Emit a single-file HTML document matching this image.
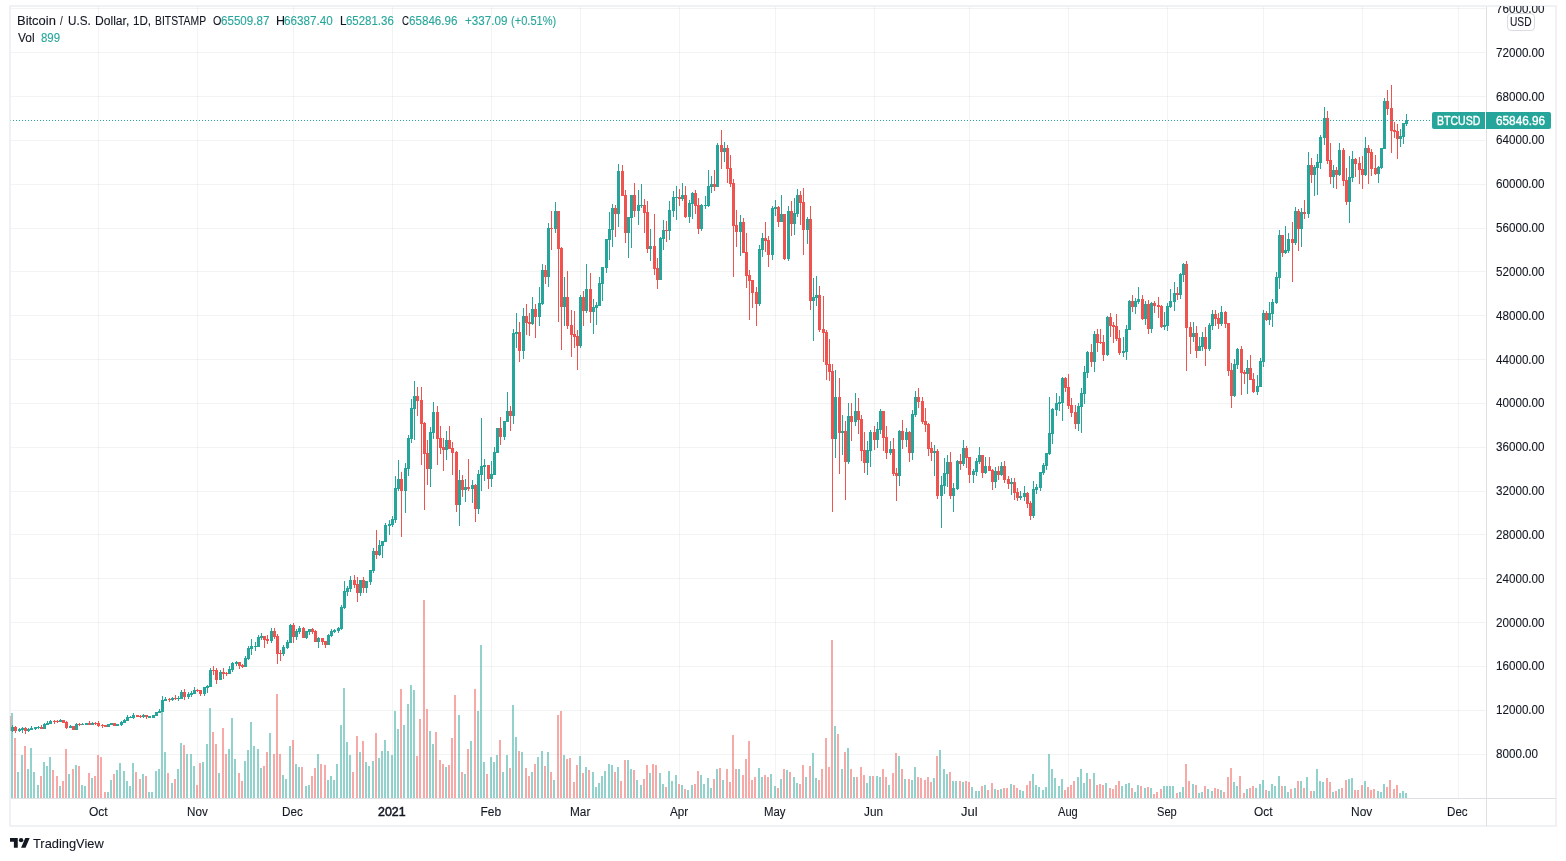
<!DOCTYPE html>
<html lang="en">
<head>
<meta charset="utf-8">
<title>BTCUSD Chart</title>
<style>
html,body{margin:0;padding:0;background:#fff;}
body{width:1566px;height:861px;position:relative;overflow:hidden;font-family:"Liberation Sans",sans-serif;font-size:12px;color:#131722;}
.frame{position:absolute;left:9px;top:5px;width:1544px;height:818px;border:2px solid #f0f1f5;}
.cv{position:absolute;left:0;top:0;}
.clip{position:absolute;left:0;top:6px;width:1566px;height:819px;overflow:hidden;}
.t{position:absolute;height:20px;line-height:20px;white-space:nowrap;transform-origin:0 50%;-webkit-text-stroke:0.1px currentColor;}
.w{-webkit-text-stroke:0.35px #fff;}
.y{-webkit-text-stroke:0.5px currentColor;}
.usd{position:absolute;left:1507px;top:13px;width:26px;height:16px;border:1px solid #d9dce3;border-radius:4px;background:#fff;}
.tag{position:absolute;top:112px;height:17px;background:#26a69a;}
.logo{position:absolute;left:9.9px;top:838.1px;}
</style>
</head>
<body>
<div class="frame"></div>
<svg class="cv" width="1566" height="861" viewBox="0 0 1566 861" shape-rendering="crispEdges">
<path d="M98 7h1v791h-1zM197 7h1v791h-1zM293 7h1v791h-1zM392 7h1v791h-1zM491 7h1v791h-1zM580 7h1v791h-1zM679 7h1v791h-1zM775 7h1v791h-1zM874 7h1v791h-1zM969 7h1v791h-1zM1068 7h1v791h-1zM1167 7h1v791h-1zM1263 7h1v791h-1zM1362 7h1v791h-1zM1458 7h1v791h-1z" fill="#1e3c32" fill-opacity="0.06"/>
<path d="M11 8h1475v1h-1475zM11 52h1475v1h-1475zM11 96h1475v1h-1475zM11 140h1475v1h-1475zM11 184h1475v1h-1475zM11 228h1475v1h-1475zM11 271h1475v1h-1475zM11 315h1475v1h-1475zM11 359h1475v1h-1475zM11 403h1475v1h-1475zM11 447h1475v1h-1475zM11 491h1475v1h-1475zM11 534h1475v1h-1475zM11 578h1475v1h-1475zM11 622h1475v1h-1475zM11 666h1475v1h-1475zM11 710h1475v1h-1475zM11 754h1475v1h-1475z" fill="#1e3c32" fill-opacity="0.06"/>
<path d="M10 716h1v15h-1z" fill="#ef5350" fill-opacity="0.45"/>
<path d="M11 713h2v85h-2zM17 772h2v26h-2zM21 755h2v43h-2zM27 769h2v29h-2zM30 748h2v50h-2zM33 772h2v26h-2zM37 785h2v13h-2zM43 762h2v36h-2zM46 766h2v32h-2zM49 757h2v41h-2zM59 786h2v12h-2zM68 774h2v24h-2zM75 765h2v33h-2zM81 785h2v13h-2zM84 786h2v12h-2zM91 778h2v20h-2zM107 792h2v6h-2zM110 780h2v18h-2zM116 770h2v28h-2zM119 763h2v35h-2zM123 771h2v27h-2zM126 781h2v17h-2zM129 786h2v12h-2zM132 763h2v35h-2zM142 774h2v24h-2zM148 792h2v6h-2zM151 792h2v6h-2zM155 771h2v27h-2zM158 769h2v29h-2zM161 707h2v91h-2zM164 752h2v46h-2zM171 783h2v15h-2zM177 769h2v29h-2zM180 743h2v55h-2zM186 754h2v44h-2zM190 754h2v44h-2zM193 766h2v32h-2zM202 762h2v36h-2zM206 744h2v54h-2zM209 708h2v90h-2zM218 773h2v25h-2zM228 749h2v49h-2zM231 718h2v80h-2zM234 759h2v39h-2zM244 761h2v37h-2zM247 750h2v48h-2zM250 722h2v76h-2zM253 746h2v52h-2zM257 749h2v49h-2zM260 768h2v30h-2zM269 733h2v65h-2zM282 775h2v23h-2zM285 779h2v19h-2zM289 746h2v52h-2zM295 764h2v34h-2zM298 767h2v31h-2zM305 786h2v12h-2zM308 785h2v13h-2zM317 754h2v44h-2zM327 780h2v18h-2zM330 776h2v22h-2zM333 780h2v18h-2zM336 764h2v34h-2zM340 725h2v73h-2zM343 688h2v110h-2zM346 742h2v56h-2zM349 755h2v43h-2zM359 752h2v46h-2zM365 762h2v36h-2zM368 766h2v32h-2zM372 761h2v37h-2zM378 758h2v40h-2zM381 751h2v47h-2zM384 740h2v58h-2zM387 751h2v47h-2zM391 755h2v43h-2zM394 711h2v87h-2zM397 729h2v69h-2zM403 725h2v73h-2zM407 704h2v94h-2zM410 685h2v113h-2zM413 690h2v108h-2zM429 731h2v67h-2zM432 744h2v54h-2zM445 767h2v31h-2zM458 715h2v83h-2zM464 774h2v24h-2zM470 741h2v57h-2zM477 711h2v87h-2zM480 645h2v153h-2zM483 762h2v36h-2zM490 757h2v41h-2zM493 762h2v36h-2zM496 755h2v43h-2zM502 772h2v26h-2zM506 755h2v43h-2zM512 705h2v93h-2zM515 737h2v61h-2zM521 752h2v46h-2zM531 772h2v26h-2zM537 757h2v41h-2zM541 751h2v47h-2zM547 752h2v46h-2zM553 780h2v18h-2zM563 755h2v43h-2zM579 756h2v42h-2zM585 767h2v31h-2zM592 772h2v26h-2zM595 787h2v11h-2zM598 783h2v15h-2zM601 776h2v22h-2zM604 771h2v27h-2zM608 764h2v34h-2zM611 765h2v33h-2zM617 767h2v31h-2zM627 760h2v38h-2zM630 769h2v29h-2zM636 780h2v18h-2zM640 785h2v13h-2zM649 773h2v25h-2zM659 773h2v25h-2zM662 784h2v14h-2zM668 771h2v27h-2zM671 781h2v17h-2zM675 775h2v23h-2zM681 785h2v13h-2zM687 790h2v8h-2zM691 785h2v13h-2zM700 775h2v23h-2zM703 784h2v14h-2zM707 778h2v20h-2zM710 788h2v10h-2zM716 769h2v29h-2zM722 780h2v18h-2zM738 769h2v29h-2zM758 768h2v30h-2zM761 777h2v21h-2zM770 774h2v24h-2zM774 786h2v12h-2zM780 779h2v19h-2zM786 770h2v28h-2zM793 777h2v21h-2zM796 783h2v15h-2zM805 777h2v21h-2zM812 753h2v45h-2zM815 778h2v20h-2zM834 726h2v72h-2zM841 769h2v29h-2zM847 748h2v50h-2zM853 777h2v21h-2zM866 783h2v15h-2zM869 776h2v22h-2zM876 776h2v22h-2zM879 777h2v21h-2zM888 785h2v13h-2zM898 756h2v42h-2zM904 779h2v19h-2zM911 780h2v18h-2zM914 767h2v31h-2zM933 778h2v20h-2zM939 750h2v48h-2zM943 769h2v29h-2zM946 774h2v24h-2zM952 781h2v17h-2zM955 781h2v17h-2zM962 782h2v16h-2zM971 787h2v11h-2zM975 791h2v7h-2zM978 791h2v7h-2zM984 785h2v13h-2zM994 789h2v9h-2zM1000 789h2v9h-2zM1010 784h2v14h-2zM1019 790h2v8h-2zM1022 791h2v7h-2zM1032 774h2v24h-2zM1035 785h2v13h-2zM1038 787h2v11h-2zM1042 790h2v8h-2zM1045 787h2v11h-2zM1048 754h2v44h-2zM1051 769h2v29h-2zM1054 778h2v20h-2zM1058 786h2v12h-2zM1061 779h2v19h-2zM1077 777h2v21h-2zM1080 769h2v29h-2zM1083 783h2v15h-2zM1086 773h2v25h-2zM1093 773h2v25h-2zM1105 783h2v15h-2zM1121 786h2v12h-2zM1125 784h2v14h-2zM1128 783h2v15h-2zM1134 792h2v6h-2zM1137 785h2v13h-2zM1144 788h2v10h-2zM1150 788h2v10h-2zM1163 786h2v12h-2zM1166 786h2v12h-2zM1169 786h2v12h-2zM1172 786h2v12h-2zM1179 792h2v6h-2zM1182 787h2v11h-2zM1192 784h2v14h-2zM1198 793h2v5h-2zM1201 792h2v6h-2zM1207 789h2v9h-2zM1211 791h2v7h-2zM1220 790h2v8h-2zM1233 782h2v16h-2zM1236 786h2v12h-2zM1246 789h2v9h-2zM1255 788h2v10h-2zM1259 784h2v14h-2zM1262 780h2v18h-2zM1268 791h2v7h-2zM1271 784h2v14h-2zM1274 786h2v12h-2zM1278 776h2v22h-2zM1284 786h2v12h-2zM1287 792h2v6h-2zM1294 788h2v10h-2zM1300 781h2v17h-2zM1306 777h2v21h-2zM1313 791h2v7h-2zM1316 769h2v29h-2zM1319 781h2v17h-2zM1322 782h2v16h-2zM1332 792h2v6h-2zM1338 789h2v9h-2zM1348 779h2v19h-2zM1351 778h2v20h-2zM1364 781h2v17h-2zM1377 791h2v7h-2zM1380 792h2v6h-2zM1383 784h2v14h-2zM1399 793h2v5h-2zM1402 791h2v7h-2zM1405 793h2v5h-2z" fill="#26a69a" fill-opacity="0.5"/>
<path d="M14 738h2v60h-2zM24 746h2v52h-2zM40 776h2v22h-2zM52 770h2v28h-2zM56 776h2v22h-2zM62 781h2v17h-2zM65 749h2v49h-2zM72 769h2v29h-2zM78 766h2v32h-2zM88 773h2v25h-2zM94 776h2v22h-2zM97 755h2v43h-2zM100 757h2v41h-2zM104 792h2v6h-2zM113 774h2v24h-2zM135 772h2v26h-2zM139 779h2v19h-2zM145 776h2v22h-2zM167 773h2v25h-2zM174 779h2v19h-2zM183 745h2v53h-2zM196 785h2v13h-2zM199 763h2v35h-2zM212 732h2v66h-2zM215 744h2v54h-2zM222 728h2v70h-2zM225 754h2v44h-2zM238 773h2v25h-2zM241 781h2v17h-2zM263 766h2v32h-2zM266 752h2v46h-2zM273 754h2v44h-2zM276 694h2v104h-2zM279 754h2v44h-2zM292 740h2v58h-2zM301 767h2v31h-2zM311 776h2v22h-2zM314 768h2v30h-2zM320 764h2v34h-2zM324 765h2v33h-2zM352 772h2v26h-2zM356 736h2v62h-2zM362 741h2v57h-2zM375 733h2v65h-2zM400 689h2v109h-2zM416 756h2v42h-2zM419 719h2v79h-2zM423 600h2v198h-2zM426 709h2v89h-2zM435 732h2v66h-2zM439 760h2v38h-2zM442 764h2v34h-2zM448 765h2v33h-2zM451 738h2v60h-2zM454 695h2v103h-2zM461 772h2v26h-2zM467 749h2v49h-2zM474 689h2v109h-2zM486 774h2v24h-2zM499 740h2v58h-2zM509 768h2v30h-2zM518 751h2v47h-2zM525 768h2v30h-2zM528 776h2v22h-2zM534 764h2v34h-2zM544 766h2v32h-2zM550 772h2v26h-2zM557 715h2v83h-2zM560 711h2v87h-2zM566 759h2v39h-2zM569 758h2v40h-2zM573 782h2v16h-2zM576 765h2v33h-2zM582 773h2v25h-2zM588 770h2v28h-2zM614 772h2v26h-2zM620 781h2v17h-2zM624 760h2v38h-2zM633 770h2v28h-2zM643 779h2v19h-2zM646 765h2v33h-2zM652 764h2v34h-2zM655 765h2v33h-2zM665 787h2v11h-2zM678 784h2v14h-2zM684 789h2v9h-2zM694 784h2v14h-2zM697 771h2v27h-2zM713 779h2v19h-2zM719 768h2v30h-2zM726 769h2v29h-2zM729 782h2v16h-2zM732 735h2v63h-2zM735 769h2v29h-2zM742 775h2v23h-2zM745 759h2v39h-2zM748 741h2v57h-2zM751 780h2v18h-2zM754 777h2v21h-2zM764 775h2v23h-2zM767 777h2v21h-2zM777 788h2v10h-2zM783 769h2v29h-2zM789 772h2v26h-2zM799 784h2v14h-2zM802 765h2v33h-2zM809 766h2v32h-2zM818 780h2v18h-2zM821 769h2v29h-2zM825 738h2v60h-2zM828 767h2v31h-2zM831 640h2v158h-2zM837 734h2v64h-2zM844 752h2v46h-2zM850 769h2v29h-2zM856 777h2v21h-2zM860 767h2v31h-2zM863 775h2v23h-2zM872 776h2v22h-2zM882 769h2v29h-2zM885 777h2v21h-2zM892 773h2v25h-2zM895 753h2v45h-2zM901 769h2v29h-2zM908 779h2v19h-2zM917 777h2v21h-2zM920 778h2v20h-2zM924 780h2v18h-2zM927 777h2v21h-2zM930 782h2v16h-2zM936 756h2v42h-2zM949 772h2v26h-2zM959 781h2v17h-2zM965 781h2v17h-2zM968 782h2v16h-2zM981 786h2v12h-2zM987 790h2v8h-2zM991 783h2v15h-2zM997 790h2v8h-2zM1003 788h2v10h-2zM1006 788h2v10h-2zM1013 785h2v13h-2zM1016 788h2v10h-2zM1026 785h2v13h-2zM1029 781h2v17h-2zM1064 790h2v8h-2zM1067 787h2v11h-2zM1070 785h2v13h-2zM1073 781h2v17h-2zM1089 779h2v19h-2zM1096 785h2v13h-2zM1099 784h2v14h-2zM1102 785h2v13h-2zM1109 788h2v10h-2zM1112 789h2v9h-2zM1115 785h2v13h-2zM1118 781h2v17h-2zM1131 788h2v10h-2zM1140 786h2v12h-2zM1147 787h2v11h-2zM1153 794h2v4h-2zM1156 792h2v6h-2zM1160 789h2v9h-2zM1176 793h2v5h-2zM1185 764h2v34h-2zM1188 781h2v17h-2zM1195 785h2v13h-2zM1204 786h2v12h-2zM1214 788h2v10h-2zM1217 789h2v9h-2zM1223 792h2v6h-2zM1227 777h2v21h-2zM1230 768h2v30h-2zM1239 776h2v22h-2zM1243 793h2v5h-2zM1249 788h2v10h-2zM1252 786h2v12h-2zM1265 790h2v8h-2zM1281 786h2v12h-2zM1290 789h2v9h-2zM1297 781h2v17h-2zM1303 788h2v10h-2zM1310 791h2v7h-2zM1326 778h2v20h-2zM1329 782h2v16h-2zM1335 791h2v7h-2zM1341 788h2v10h-2zM1345 780h2v18h-2zM1354 790h2v8h-2zM1357 790h2v8h-2zM1361 785h2v13h-2zM1367 787h2v11h-2zM1370 790h2v8h-2zM1373 789h2v9h-2zM1386 787h2v11h-2zM1389 780h2v18h-2zM1393 789h2v9h-2zM1396 785h2v13h-2z" fill="#ef5350" fill-opacity="0.5"/>
<path d="M12 725h1v7h-1zM11 727h3v4h-3zM19 728h1v4h-1zM18 729h3v2h-3zM22 727h1v6h-1zM21 728h3v2h-3zM28 728h1v4h-1zM27 729h3v2h-3zM31 726h1v4h-1zM30 728h3v2h-3zM35 727h1v3h-1zM34 727h3v2h-3zM38 726h1v3h-1zM37 727h3v1h-3zM44 723h1v6h-1zM43 724h3v5h-3zM47 721h1v4h-1zM46 723h3v2h-3zM50 720h1v4h-1zM49 721h3v3h-3zM60 719h1v3h-1zM59 720h3v2h-3zM70 725h1v3h-1zM69 726h3v2h-3zM76 723h1v7h-1zM75 724h3v6h-3zM82 723h1v2h-1zM81 724h3v1h-3zM86 723h1v2h-1zM85 723h3v2h-3zM92 722h1v3h-1zM91 723h3v2h-3zM108 724h1v3h-1zM107 724h3v3h-3zM111 723h1v2h-1zM110 723h3v2h-3zM117 724h1v2h-1zM116 724h3v2h-3zM121 721h1v5h-1zM120 722h3v3h-3zM124 719h1v4h-1zM123 720h3v3h-3zM127 715h1v6h-1zM126 717h3v4h-3zM130 716h1v2h-1zM129 717h3v1h-3zM133 713h1v6h-1zM132 715h3v3h-3zM143 714h1v4h-1zM142 715h3v2h-3zM149 716h1v2h-1zM148 716h3v2h-3zM153 715h1v3h-1zM152 715h3v3h-3zM156 712h1v4h-1zM155 712h3v4h-3zM159 709h1v4h-1zM158 711h3v2h-3zM162 696h1v16h-1zM161 700h3v12h-3zM165 697h1v4h-1zM164 699h3v2h-3zM172 697h1v4h-1zM171 698h3v2h-3zM178 696h1v5h-1zM177 698h3v1h-3zM181 690h1v9h-1zM180 692h3v7h-3zM188 692h1v7h-1zM187 694h3v3h-3zM191 691h1v6h-1zM190 693h3v2h-3zM194 687h1v7h-1zM193 690h3v4h-3zM204 687h1v9h-1zM203 687h3v7h-3zM207 685h1v8h-1zM206 686h3v2h-3zM210 668h1v19h-1zM209 670h3v17h-3zM220 670h1v10h-1zM219 672h3v8h-3zM229 666h1v8h-1zM228 669h3v5h-3zM232 662h1v10h-1zM231 663h3v7h-3zM236 661h1v5h-1zM235 662h3v2h-3zM245 656h1v11h-1zM244 658h3v9h-3zM248 646h1v14h-1zM247 648h3v11h-3zM251 639h1v16h-1zM250 646h3v3h-3zM255 642h1v9h-1zM254 646h3v1h-3zM258 635h1v12h-1zM257 637h3v10h-3zM261 633h1v7h-1zM260 636h3v2h-3zM271 628h1v15h-1zM270 631h3v10h-3zM283 645h1v11h-1zM282 647h3v7h-3zM287 640h1v9h-1zM286 642h3v6h-3zM290 624h1v19h-1zM289 625h3v18h-3zM296 629h1v11h-1zM295 631h3v6h-3zM299 626h1v8h-1zM298 628h3v4h-3zM306 631h1v8h-1zM305 631h3v7h-3zM309 629h1v6h-1zM308 629h3v3h-3zM318 637h1v11h-1zM317 638h3v4h-3zM328 634h1v11h-1zM327 635h3v10h-3zM331 629h1v8h-1zM330 631h3v5h-3zM334 629h1v4h-1zM333 630h3v2h-3zM338 627h1v6h-1zM337 628h3v3h-3zM341 605h1v25h-1zM340 607h3v22h-3zM344 581h1v28h-1zM343 591h3v17h-3zM347 586h1v10h-1zM346 588h3v4h-3zM350 576h1v16h-1zM349 580h3v9h-3zM360 580h1v16h-1zM359 580h3v13h-3zM366 581h1v12h-1zM365 581h3v7h-3zM370 570h1v15h-1zM369 570h3v12h-3zM373 548h1v25h-1zM372 551h3v20h-3zM379 540h1v16h-1zM378 545h3v10h-3zM382 541h1v17h-1zM381 541h3v5h-3zM385 523h1v19h-1zM384 525h3v17h-3zM389 520h1v15h-1zM388 524h3v2h-3zM392 516h1v11h-1zM391 519h3v6h-3zM395 476h1v47h-1zM394 488h3v32h-3zM398 460h1v31h-1zM397 479h3v10h-3zM405 463h1v50h-1zM404 468h3v23h-3zM408 435h1v41h-1zM407 438h3v31h-3zM411 399h1v44h-1zM410 408h3v31h-3zM414 381h1v59h-1zM413 396h3v13h-3zM430 427h1v60h-1zM429 432h3v37h-3zM433 402h1v37h-1zM432 412h3v21h-3zM446 431h1v29h-1zM445 440h3v10h-3zM459 470h1v56h-1zM458 480h3v25h-3zM465 479h1v23h-1zM464 487h3v3h-3zM472 480h1v23h-1zM471 485h3v4h-3zM478 470h1v44h-1zM477 474h3v35h-3zM481 418h1v73h-1zM480 466h3v9h-3zM484 459h1v22h-1zM483 465h3v2h-3zM491 461h1v26h-1zM490 474h3v5h-3zM494 447h1v28h-1zM493 452h3v23h-3zM497 428h1v25h-1zM496 428h3v25h-3zM504 421h1v19h-1zM503 421h3v16h-3zM507 392h1v30h-1zM506 411h3v11h-3zM513 329h1v95h-1zM512 333h3v83h-3zM516 313h1v35h-1zM515 332h3v2h-3zM523 308h1v51h-1zM522 316h3v35h-3zM532 297h1v28h-1zM531 309h3v15h-3zM539 287h1v39h-1zM538 303h3v14h-3zM542 264h1v41h-1zM541 270h3v34h-3zM548 223h1v64h-1zM547 228h3v49h-3zM555 202h1v31h-1zM554 211h3v18h-3zM564 277h1v49h-1zM563 297h3v10h-3zM580 295h1v53h-1zM579 297h3v49h-3zM586 264h1v49h-1zM585 289h3v22h-3zM593 299h1v35h-1zM592 307h3v5h-3zM596 302h1v23h-1zM595 305h3v3h-3zM599 277h1v29h-1zM598 283h3v23h-3zM602 267h1v34h-1zM601 267h3v17h-3zM606 239h1v34h-1zM605 239h3v29h-3zM609 212h1v48h-1zM608 229h3v11h-3zM612 204h1v43h-1zM611 208h3v22h-3zM618 164h1v63h-1zM617 171h3v43h-3zM628 217h1v41h-1zM627 217h3v16h-3zM631 195h1v53h-1zM630 195h3v23h-3zM638 190h1v35h-1zM637 205h3v6h-3zM641 184h1v24h-1zM640 205h3v1h-3zM650 229h1v32h-1zM649 246h3v3h-3zM660 237h1v43h-1zM659 238h3v42h-3zM663 220h1v30h-1zM662 230h3v9h-3zM669 201h1v39h-1zM668 210h3v21h-3zM673 191h1v26h-1zM672 197h3v14h-3zM676 186h1v34h-1zM675 197h3v1h-3zM682 183h1v18h-1zM681 195h3v4h-3zM689 200h1v23h-1zM688 203h3v14h-3zM692 192h1v27h-1zM691 193h3v11h-3zM701 204h1v27h-1zM700 205h3v24h-3zM705 196h1v13h-1zM704 205h3v1h-3zM708 170h1v37h-1zM707 186h3v20h-3zM711 176h1v17h-1zM710 184h3v3h-3zM717 143h1v44h-1zM716 145h3v42h-3zM724 142h1v20h-1zM723 148h3v4h-3zM740 215h1v41h-1zM739 222h3v10h-3zM759 245h1v61h-1zM758 249h3v55h-3zM762 233h1v24h-1zM761 238h3v12h-3zM772 206h1v54h-1zM771 208h3v47h-3zM775 200h1v16h-1zM774 207h3v2h-3zM781 195h1v27h-1zM780 214h3v8h-3zM788 206h1v55h-1zM787 211h3v48h-3zM794 198h1v37h-1zM793 213h3v11h-3zM797 189h1v28h-1zM796 195h3v19h-3zM807 217h1v27h-1zM806 219h3v11h-3zM813 278h1v63h-1zM812 297h3v4h-3zM816 276h1v30h-1zM815 295h3v3h-3zM835 370h1v88h-1zM834 397h3v42h-3zM842 415h1v40h-1zM841 431h3v2h-3zM848 403h1v61h-1zM847 416h3v46h-3zM855 393h1v33h-1zM854 411h3v11h-3zM867 441h1v34h-1zM866 450h3v13h-3zM870 430h1v37h-1zM869 432h3v19h-3zM877 422h1v26h-1zM876 429h3v11h-3zM880 409h1v25h-1zM879 411h3v19h-3zM890 441h1v14h-1zM889 449h3v4h-3zM899 430h1v56h-1zM898 431h3v45h-3zM906 428h1v19h-1zM905 432h3v8h-3zM912 410h1v50h-1zM911 414h3v39h-3zM915 391h1v26h-1zM914 397h3v18h-3zM934 445h1v31h-1zM933 451h3v2h-3zM941 476h1v52h-1zM940 485h3v11h-3zM944 458h1v36h-1zM943 473h3v13h-3zM947 455h1v32h-1zM946 462h3v12h-3zM953 483h1v29h-1zM952 488h3v8h-3zM957 460h1v30h-1zM956 461h3v28h-3zM963 440h1v26h-1zM962 448h3v16h-3zM973 469h1v14h-1zM972 471h3v4h-3zM976 458h1v18h-1zM975 461h3v11h-3zM979 447h1v17h-1zM978 455h3v7h-3zM985 457h1v17h-1zM984 466h3v7h-3zM995 467h1v21h-1zM994 471h3v11h-3zM1001 462h1v14h-1zM1000 466h3v9h-3zM1011 478h1v17h-1zM1010 482h3v2h-3zM1020 491h1v9h-1zM1019 496h3v2h-3zM1024 486h1v15h-1zM1023 493h3v4h-3zM1033 481h1v37h-1zM1032 489h3v27h-3zM1036 484h1v10h-1zM1035 487h3v3h-3zM1040 472h1v19h-1zM1039 472h3v16h-3zM1043 463h1v12h-1zM1042 465h3v8h-3zM1046 453h1v17h-1zM1045 453h3v13h-3zM1049 397h1v58h-1zM1048 433h3v21h-3zM1052 408h1v36h-1zM1051 409h3v25h-3zM1056 393h1v23h-1zM1055 403h3v7h-3zM1059 396h1v15h-1zM1058 402h3v2h-3zM1062 377h1v44h-1zM1061 378h3v25h-3zM1078 403h1v28h-1zM1077 406h3v18h-3zM1081 388h1v45h-1zM1080 393h3v14h-3zM1084 366h1v38h-1zM1083 372h3v22h-3zM1087 351h1v27h-1zM1086 352h3v21h-3zM1094 331h1v41h-1zM1093 334h3v28h-3zM1107 316h1v40h-1zM1106 317h3v38h-3zM1123 337h1v20h-1zM1122 351h3v2h-3zM1126 325h1v35h-1zM1125 329h3v23h-3zM1129 300h1v30h-1zM1128 301h3v29h-3zM1135 298h1v16h-1zM1134 301h3v6h-3zM1138 287h1v17h-1zM1137 299h3v3h-3zM1145 301h1v24h-1zM1144 304h3v15h-3zM1151 302h1v31h-1zM1150 303h3v26h-3zM1164 312h1v18h-1zM1163 325h3v2h-3zM1167 303h1v28h-1zM1166 306h3v20h-3zM1170 289h1v19h-1zM1169 301h3v6h-3zM1174 282h1v29h-1zM1173 293h3v9h-3zM1180 273h1v26h-1zM1179 274h3v21h-3zM1183 263h1v19h-1zM1182 264h3v11h-3zM1193 322h1v20h-1zM1192 333h3v4h-3zM1199 337h1v14h-1zM1198 346h3v5h-3zM1202 332h1v19h-1zM1201 337h3v10h-3zM1209 323h1v28h-1zM1208 325h3v24h-3zM1212 310h1v20h-1zM1211 314h3v12h-3zM1221 306h1v20h-1zM1220 312h3v12h-3zM1234 359h1v38h-1zM1233 364h3v32h-3zM1237 348h1v21h-1zM1236 349h3v16h-3zM1247 360h1v34h-1zM1246 368h3v6h-3zM1257 375h1v20h-1zM1256 386h3v6h-3zM1260 358h1v29h-1zM1259 361h3v26h-3zM1263 310h1v57h-1zM1262 313h3v49h-3zM1269 302h1v23h-1zM1268 313h3v7h-3zM1272 299h1v28h-1zM1271 302h3v12h-3zM1276 272h1v32h-1zM1275 277h3v26h-3zM1279 230h1v59h-1zM1278 235h3v43h-3zM1285 226h1v28h-1zM1284 250h3v3h-3zM1288 233h1v20h-1zM1287 239h3v12h-3zM1295 207h1v38h-1zM1294 211h3v32h-3zM1301 208h1v39h-1zM1300 212h3v17h-3zM1308 152h1v66h-1zM1307 165h3v49h-3zM1314 165h1v31h-1zM1313 167h3v8h-3zM1317 154h1v41h-1zM1316 162h3v6h-3zM1320 135h1v34h-1zM1319 137h3v26h-3zM1324 107h1v38h-1zM1323 118h3v20h-3zM1333 165h1v23h-1zM1332 170h3v7h-3zM1339 143h1v33h-1zM1338 150h3v25h-3zM1349 156h1v67h-1zM1348 177h3v25h-3zM1352 151h1v31h-1zM1351 159h3v19h-3zM1365 137h1v39h-1zM1364 148h3v27h-3zM1378 166h1v17h-1zM1377 167h3v7h-3zM1381 148h1v21h-1zM1380 148h3v20h-3zM1384 98h1v51h-1zM1383 101h3v48h-3zM1400 129h1v18h-1zM1399 136h3v3h-3zM1403 123h1v21h-1zM1402 123h3v14h-3zM1406 114h1v12h-1zM1405 120h3v4h-3z" fill="#26a69a"/>
<path d="M15 726h1v7h-1zM14 727h3v4h-3zM25 727h1v7h-1zM24 728h3v3h-3zM41 725h1v4h-1zM40 727h3v2h-3zM54 720h1v4h-1zM53 721h3v1h-3zM57 720h1v3h-1zM56 721h3v1h-3zM63 720h1v3h-1zM62 720h3v3h-3zM66 721h1v8h-1zM65 722h3v6h-3zM73 726h1v4h-1zM72 726h3v4h-3zM79 723h1v3h-1zM78 724h3v1h-3zM89 721h1v4h-1zM88 723h3v2h-3zM95 722h1v3h-1zM94 723h3v1h-3zM98 721h1v6h-1zM97 723h3v3h-3zM102 724h1v4h-1zM101 725h3v1h-3zM105 725h1v2h-1zM104 725h3v2h-3zM114 723h1v3h-1zM113 723h3v3h-3zM137 715h1v2h-1zM136 715h3v2h-3zM140 715h1v3h-1zM139 716h3v1h-3zM146 715h1v4h-1zM145 715h3v2h-3zM169 698h1v4h-1zM168 699h3v1h-3zM175 695h1v5h-1zM174 698h3v1h-3zM184 689h1v11h-1zM183 692h3v5h-3zM197 689h1v3h-1zM196 690h3v1h-3zM200 690h1v6h-1zM199 690h3v4h-3zM213 666h1v9h-1zM212 670h3v1h-3zM216 668h1v16h-1zM215 670h3v10h-3zM223 668h1v11h-1zM222 672h3v2h-3zM226 672h1v4h-1zM225 673h3v1h-3zM239 662h1v7h-1zM238 662h3v4h-3zM242 664h1v4h-1zM241 665h3v2h-3zM264 636h1v12h-1zM263 636h3v4h-3zM267 635h1v9h-1zM266 639h3v2h-3zM274 628h1v11h-1zM273 631h3v6h-3zM277 634h1v30h-1zM276 636h3v18h-3zM280 650h1v11h-1zM279 653h3v1h-3zM293 623h1v20h-1zM292 625h3v12h-3zM303 627h1v11h-1zM302 628h3v10h-3zM312 628h1v6h-1zM311 629h3v3h-3zM315 630h1v12h-1zM314 631h3v11h-3zM322 638h1v7h-1zM321 638h3v4h-3zM325 641h1v7h-1zM324 641h3v4h-3zM354 575h1v13h-1zM353 580h3v5h-3zM357 577h1v25h-1zM356 584h3v9h-3zM363 577h1v16h-1zM362 580h3v8h-3zM376 530h1v29h-1zM375 551h3v4h-3zM401 472h1v65h-1zM400 479h3v12h-3zM417 387h1v29h-1zM416 396h3v5h-3zM421 387h1v78h-1zM420 400h3v24h-3zM424 422h1v88h-1zM423 423h3v31h-3zM427 440h1v45h-1zM426 453h3v16h-3zM437 406h1v59h-1zM436 412h3v27h-3zM440 426h1v28h-1zM439 438h3v10h-3zM443 438h1v33h-1zM442 447h3v3h-3zM449 426h1v23h-1zM448 440h3v9h-3zM452 442h1v33h-1zM451 448h3v5h-3zM456 451h1v61h-1zM455 452h3v53h-3zM462 475h1v22h-1zM461 480h3v10h-3zM468 459h1v32h-1zM467 487h3v2h-3zM475 484h1v38h-1zM474 485h3v24h-3zM488 465h1v24h-1zM487 465h3v14h-3zM500 417h1v28h-1zM499 428h3v9h-3zM510 406h1v25h-1zM509 411h3v5h-3zM519 322h1v40h-1zM518 332h3v19h-3zM526 304h1v31h-1zM525 316h3v7h-3zM529 313h1v23h-1zM528 322h3v2h-3zM535 304h1v34h-1zM534 309h3v8h-3zM545 265h1v19h-1zM544 270h3v7h-3zM551 211h1v39h-1zM550 228h3v1h-3zM558 211h1v111h-1zM557 211h3v38h-3zM561 247h1v103h-1zM560 248h3v59h-3zM567 271h1v58h-1zM566 297h3v29h-3zM571 310h1v47h-1zM570 325h3v10h-3zM574 311h1v37h-1zM573 334h3v3h-3zM577 330h1v40h-1zM576 336h3v10h-3zM583 291h1v35h-1zM582 297h3v14h-3zM590 273h1v50h-1zM589 289h3v23h-3zM615 205h1v32h-1zM614 208h3v6h-3zM622 165h1v31h-1zM621 171h3v25h-3zM625 190h1v53h-1zM624 195h3v38h-3zM634 183h1v34h-1zM633 195h3v16h-3zM644 199h1v34h-1zM643 205h3v8h-3zM647 201h1v52h-1zM646 212h3v37h-3zM654 214h1v61h-1zM653 246h3v23h-3zM657 258h1v31h-1zM656 268h3v12h-3zM666 221h1v21h-1zM665 230h3v1h-3zM679 189h1v17h-1zM678 197h3v2h-3zM685 186h1v32h-1zM684 195h3v22h-3zM695 190h1v24h-1zM694 193h3v13h-3zM698 198h1v36h-1zM697 205h3v24h-3zM714 170h1v21h-1zM713 184h3v3h-3zM721 130h1v39h-1zM720 145h3v7h-3zM727 145h1v38h-1zM726 148h3v21h-3zM730 155h1v32h-1zM729 168h3v16h-3zM733 179h1v98h-1zM732 183h3v43h-3zM736 210h1v37h-1zM735 225h3v7h-3zM743 218h1v35h-1zM742 222h3v31h-3zM746 233h1v55h-1zM745 252h3v24h-3zM749 270h1v50h-1zM748 275h3v6h-3zM752 280h1v28h-1zM751 280h3v13h-3zM756 287h1v39h-1zM755 292h3v12h-3zM765 222h1v30h-1zM764 238h3v3h-3zM768 236h1v31h-1zM767 240h3v15h-3zM778 206h1v21h-1zM777 207h3v15h-3zM784 214h1v46h-1zM783 214h3v45h-3zM791 201h1v35h-1zM790 211h3v13h-3zM800 191h1v34h-1zM799 195h3v8h-3zM803 188h1v67h-1zM802 202h3v28h-3zM810 206h1v104h-1zM809 219h3v82h-3zM819 286h1v46h-1zM818 295h3v35h-3zM823 296h1v66h-1zM822 329h3v4h-3zM826 330h1v50h-1zM825 332h3v33h-3zM829 339h1v42h-1zM828 364h3v8h-3zM832 364h1v148h-1zM831 371h3v68h-3zM839 378h1v96h-1zM838 397h3v36h-3zM845 421h1v79h-1zM844 431h3v31h-3zM851 403h1v38h-1zM850 416h3v6h-3zM858 398h1v36h-1zM857 411h3v9h-3zM861 415h1v46h-1zM860 419h3v32h-3zM864 432h1v41h-1zM863 450h3v13h-3zM874 426h1v24h-1zM873 432h3v8h-3zM883 411h1v40h-1zM882 411h3v27h-3zM886 426h1v33h-1zM885 437h3v16h-3zM893 438h1v38h-1zM892 449h3v25h-3zM896 468h1v33h-1zM895 473h3v3h-3zM902 420h1v29h-1zM901 431h3v9h-3zM909 431h1v31h-1zM908 432h3v21h-3zM918 388h1v20h-1zM917 397h3v5h-3zM922 397h1v27h-1zM921 401h3v21h-3zM925 408h1v24h-1zM924 421h3v4h-3zM928 423h1v33h-1zM927 424h3v25h-3zM931 442h1v19h-1zM930 448h3v5h-3zM937 449h1v50h-1zM936 451h3v45h-3zM950 452h1v47h-1zM949 462h3v34h-3zM960 454h1v16h-1zM959 461h3v3h-3zM966 446h1v22h-1zM965 448h3v10h-3zM969 457h1v26h-1zM968 457h3v18h-3zM982 455h1v23h-1zM981 455h3v18h-3zM989 457h1v14h-1zM988 466h3v5h-3zM992 469h1v21h-1zM991 470h3v12h-3zM998 466h1v14h-1zM997 471h3v4h-3zM1004 461h1v22h-1zM1003 466h3v14h-3zM1008 476h1v13h-1zM1007 479h3v5h-3zM1014 478h1v22h-1zM1013 482h3v11h-3zM1017 488h1v13h-1zM1016 492h3v6h-3zM1027 492h1v16h-1zM1026 493h3v11h-3zM1030 501h1v19h-1zM1029 503h3v13h-3zM1065 377h1v15h-1zM1064 378h3v10h-3zM1068 374h1v35h-1zM1067 387h3v19h-3zM1071 398h1v19h-1zM1070 405h3v8h-3zM1075 405h1v24h-1zM1074 412h3v12h-3zM1091 344h1v23h-1zM1090 352h3v10h-3zM1097 329h1v23h-1zM1096 334h3v9h-3zM1100 329h1v15h-1zM1099 342h3v1h-3zM1103 335h1v26h-1zM1102 342h3v13h-3zM1110 313h1v24h-1zM1109 317h3v9h-3zM1113 322h1v21h-1zM1112 325h3v2h-3zM1116 314h1v27h-1zM1115 326h3v13h-3zM1119 330h1v25h-1zM1118 338h3v15h-3zM1132 295h1v17h-1zM1131 301h3v6h-3zM1142 295h1v25h-1zM1141 299h3v20h-3zM1148 300h1v34h-1zM1147 304h3v25h-3zM1154 301h1v12h-1zM1153 303h3v3h-3zM1158 297h1v21h-1zM1157 305h3v2h-3zM1161 305h1v23h-1zM1160 306h3v21h-3zM1177 287h1v13h-1zM1176 293h3v2h-3zM1186 261h1v110h-1zM1185 264h3v64h-3zM1190 322h1v32h-1zM1189 327h3v10h-3zM1196 326h1v32h-1zM1195 333h3v18h-3zM1205 327h1v39h-1zM1204 337h3v12h-3zM1215 310h1v16h-1zM1214 314h3v5h-3zM1218 313h1v16h-1zM1217 318h3v6h-3zM1225 311h1v17h-1zM1224 312h3v12h-3zM1228 323h1v53h-1zM1227 323h3v48h-3zM1231 363h1v45h-1zM1230 370h3v26h-3zM1241 346h1v49h-1zM1240 349h3v24h-3zM1244 370h1v14h-1zM1243 372h3v2h-3zM1250 355h1v25h-1zM1249 368h3v12h-3zM1253 373h1v20h-1zM1252 379h3v13h-3zM1266 311h1v10h-1zM1265 313h3v7h-3zM1282 235h1v22h-1zM1281 235h3v18h-3zM1292 222h1v60h-1zM1291 239h3v4h-3zM1298 209h1v42h-1zM1297 211h3v18h-3zM1304 200h1v19h-1zM1303 212h3v2h-3zM1311 158h1v25h-1zM1310 165h3v10h-3zM1327 111h1v53h-1zM1326 118h3v43h-3zM1330 143h1v41h-1zM1329 160h3v17h-3zM1336 167h1v22h-1zM1335 170h3v5h-3zM1343 148h1v38h-1zM1342 150h3v31h-3zM1346 168h1v37h-1zM1345 180h3v22h-3zM1355 158h1v19h-1zM1354 159h3v5h-3zM1359 157h1v27h-1zM1358 163h3v7h-3zM1362 156h1v33h-1zM1361 169h3v6h-3zM1368 145h1v39h-1zM1367 148h3v5h-3zM1371 149h1v27h-1zM1370 152h3v17h-3zM1375 155h1v20h-1zM1374 168h3v6h-3zM1387 90h1v25h-1zM1386 101h3v8h-3zM1391 85h1v68h-1zM1390 108h3v23h-3zM1394 122h1v16h-1zM1393 130h3v2h-3zM1397 124h1v35h-1zM1396 131h3v8h-3z" fill="#ef5350"/>
<path d="M13 120.5H1432" stroke="#26a69a" stroke-width="1" stroke-dasharray="1 2" fill="none"/>
<path d="M10 120h1v1h-1z" fill="#26a69a" fill-opacity="0.45"/>
<path d="M1486 7h1v819h-1zM11 798h1545v1h-1545z" fill="#dfe0e4"/>
</svg>
<div class="clip">
<span class="t" style="left:1495.90px;top:-7px;font-size:12px;font-weight:400;color:#131722;transform:scaleX(0.9694)">76000.00</span>
<span class="t" style="left:1495.90px;top:37px;font-size:12px;font-weight:400;color:#131722;transform:scaleX(0.9694)">72000.00</span>
<span class="t" style="left:1495.90px;top:81px;font-size:12px;font-weight:400;color:#131722;transform:scaleX(0.9694)">68000.00</span>
<span class="t" style="left:1495.90px;top:124px;font-size:12px;font-weight:400;color:#131722;transform:scaleX(0.9694)">64000.00</span>
<span class="t" style="left:1495.90px;top:168px;font-size:12px;font-weight:400;color:#131722;transform:scaleX(0.9694)">60000.00</span>
<span class="t" style="left:1495.90px;top:212px;font-size:12px;font-weight:400;color:#131722;transform:scaleX(0.9694)">56000.00</span>
<span class="t" style="left:1495.90px;top:256px;font-size:12px;font-weight:400;color:#131722;transform:scaleX(0.9694)">52000.00</span>
<span class="t" style="left:1495.90px;top:300px;font-size:12px;font-weight:400;color:#131722;transform:scaleX(0.9694)">48000.00</span>
<span class="t" style="left:1495.90px;top:344px;font-size:12px;font-weight:400;color:#131722;transform:scaleX(0.9694)">44000.00</span>
<span class="t" style="left:1495.90px;top:387px;font-size:12px;font-weight:400;color:#131722;transform:scaleX(0.9694)">40000.00</span>
<span class="t" style="left:1495.90px;top:431px;font-size:12px;font-weight:400;color:#131722;transform:scaleX(0.9694)">36000.00</span>
<span class="t" style="left:1495.90px;top:475px;font-size:12px;font-weight:400;color:#131722;transform:scaleX(0.9694)">32000.00</span>
<span class="t" style="left:1495.90px;top:519px;font-size:12px;font-weight:400;color:#131722;transform:scaleX(0.9694)">28000.00</span>
<span class="t" style="left:1495.90px;top:563px;font-size:12px;font-weight:400;color:#131722;transform:scaleX(0.9694)">24000.00</span>
<span class="t" style="left:1495.90px;top:607px;font-size:12px;font-weight:400;color:#131722;transform:scaleX(0.9694)">20000.00</span>
<span class="t" style="left:1495.90px;top:650px;font-size:12px;font-weight:400;color:#131722;transform:scaleX(0.9694)">16000.00</span>
<span class="t" style="left:1495.90px;top:694px;font-size:12px;font-weight:400;color:#131722;transform:scaleX(0.9694)">12000.00</span>
<span class="t" style="left:1495.90px;top:738px;font-size:12px;font-weight:400;color:#131722;transform:scaleX(0.9694)">8000.00</span>
</div>
<div class="usd"></div>
<div class="tag" style="left:1432px;width:53px;border-radius:2px 0 0 2px;"></div>
<div class="tag" style="left:1486px;width:65px;border-radius:0 2px 2px 0;"></div>
<span class="t" style="left:17.22px;top:11px;font-size:12px;font-weight:400;color:#131722;transform:scaleX(1.0795)">Bitcoin</span>
<span class="t" style="left:60.04px;top:11px;font-size:12px;font-weight:400;color:#131722;transform:scaleX(0.824)">/</span>
<span class="t" style="left:68.12px;top:11px;font-size:12px;font-weight:400;color:#131722;transform:scaleX(0.9761)">U.S.</span>
<span class="t" style="left:94.79px;top:11px;font-size:12px;font-weight:400;color:#131722;transform:scaleX(1.0095)">Dollar,</span>
<span class="t" style="left:132.63px;top:11px;font-size:12px;font-weight:400;color:#131722;transform:scaleX(0.9677)">1D,</span>
<span class="t" style="left:154.74px;top:11px;font-size:12px;font-weight:400;color:#131722;transform:scaleX(0.8639)">BITSTAMP</span>
<span class="t" style="left:212.63px;top:11px;font-size:12px;font-weight:400;color:#131722;transform:scaleX(0.8995)">O</span>
<span class="t" style="left:220.99px;top:11px;font-size:12px;font-weight:400;color:#26a69a;transform:scaleX(0.9665)">65509.87</span>
<span class="t" style="left:275.76px;top:11px;font-size:12px;font-weight:400;color:#131722;transform:scaleX(1.0387)">H</span>
<span class="t" style="left:284.48px;top:11px;font-size:12px;font-weight:400;color:#26a69a;transform:scaleX(0.9756)">66387.40</span>
<span class="t" style="left:339.62px;top:11px;font-size:12px;font-weight:400;color:#131722;transform:scaleX(0.9753)">L</span>
<span class="t" style="left:346.49px;top:11px;font-size:12px;font-weight:400;color:#26a69a;transform:scaleX(0.9544)">65281.36</span>
<span class="t" style="left:402.04px;top:11px;font-size:12px;font-weight:400;color:#131722;transform:scaleX(0.8097)">C</span>
<span class="t" style="left:409.09px;top:11px;font-size:12px;font-weight:400;color:#26a69a;transform:scaleX(0.9686)">65846.96</span>
<span class="t" style="left:465.01px;top:11px;font-size:12px;font-weight:400;color:#26a69a;transform:scaleX(0.9696)">+337.09</span>
<span class="t" style="left:511.14px;top:11px;font-size:12px;font-weight:400;color:#26a69a;transform:scaleX(0.923)">(+0.51%)</span>
<span class="t" style="left:18.17px;top:28px;font-size:12px;font-weight:400;color:#131722;transform:scaleX(0.9943)">Vol</span>
<span class="t" style="left:41.43px;top:28px;font-size:12px;font-weight:400;color:#26a69a;transform:scaleX(0.9498)">899</span>
<span class="t" style="left:88.80px;top:802px;font-size:12px;font-weight:400;color:#131722;transform:scaleX(1.0001)">Oct</span>
<span class="t" style="left:186.73px;top:802px;font-size:12px;font-weight:400;color:#131722;transform:scaleX(0.9711)">Nov</span>
<span class="t" style="left:282.42px;top:802px;font-size:12px;font-weight:400;color:#131722;transform:scaleX(0.9773)">Dec</span>
<span class="t y" style="left:378.18px;top:802px;font-size:12px;font-weight:400;color:#131722;transform:scaleX(1.0317)">2021</span>
<span class="t" style="left:480.50px;top:802px;font-size:12px;font-weight:400;color:#131722;transform:scaleX(1.0)">Feb</span>
<span class="t" style="left:569.51px;top:802px;font-size:12px;font-weight:400;color:#131722;transform:scaleX(0.9864)">Mar</span>
<span class="t" style="left:669.88px;top:802px;font-size:12px;font-weight:400;color:#131722;transform:scaleX(0.9706)">Apr</span>
<span class="t" style="left:763.55px;top:802px;font-size:12px;font-weight:400;color:#131722;transform:scaleX(0.9506)">May</span>
<span class="t" style="left:864.23px;top:802px;font-size:12px;font-weight:400;color:#131722;transform:scaleX(0.9817)">Jun</span>
<span class="t" style="left:961.20px;top:802px;font-size:12px;font-weight:400;color:#131722;transform:scaleX(1.0812)">Jul</span>
<span class="t" style="left:1058.39px;top:802px;font-size:12px;font-weight:400;color:#131722;transform:scaleX(0.9235)">Aug</span>
<span class="t" style="left:1157.18px;top:802px;font-size:12px;font-weight:400;color:#131722;transform:scaleX(0.9229)">Sep</span>
<span class="t" style="left:1253.60px;top:802px;font-size:12px;font-weight:400;color:#131722;transform:scaleX(0.9892)">Oct</span>
<span class="t" style="left:1351.20px;top:802px;font-size:12px;font-weight:400;color:#131722;transform:scaleX(0.9962)">Nov</span>
<span class="t" style="left:1447.13px;top:802px;font-size:12px;font-weight:400;color:#131722;transform:scaleX(0.9672)">Dec</span>
<span class="t" style="left:1510.05px;top:12px;font-size:12px;font-weight:400;color:#131722;transform:scaleX(0.8497)">USD</span>
<span class="t w" style="left:1436.52px;top:111px;font-size:12px;font-weight:400;color:#ffffff;transform:scaleX(0.8791)">BTCUSD</span>
<span class="t w" style="left:1495.68px;top:111px;font-size:12px;font-weight:400;color:#ffffff;transform:scaleX(0.9807)">65846.96</span>
<span class="t" style="left:32.74px;top:834px;font-size:13px;font-weight:400;color:#131722;transform:scaleX(0.9888)">TradingView</span>
<svg class="logo" width="19.7" height="9.7" viewBox="0 4 35.5 18" preserveAspectRatio="none"><path d="M14 22H7V11H0V4h14v18zM28 22h-8l7.5-18h8L28 22z" fill="#131722"/><circle cx="20" cy="8" r="4" fill="#131722"/></svg>
</body>
</html>
